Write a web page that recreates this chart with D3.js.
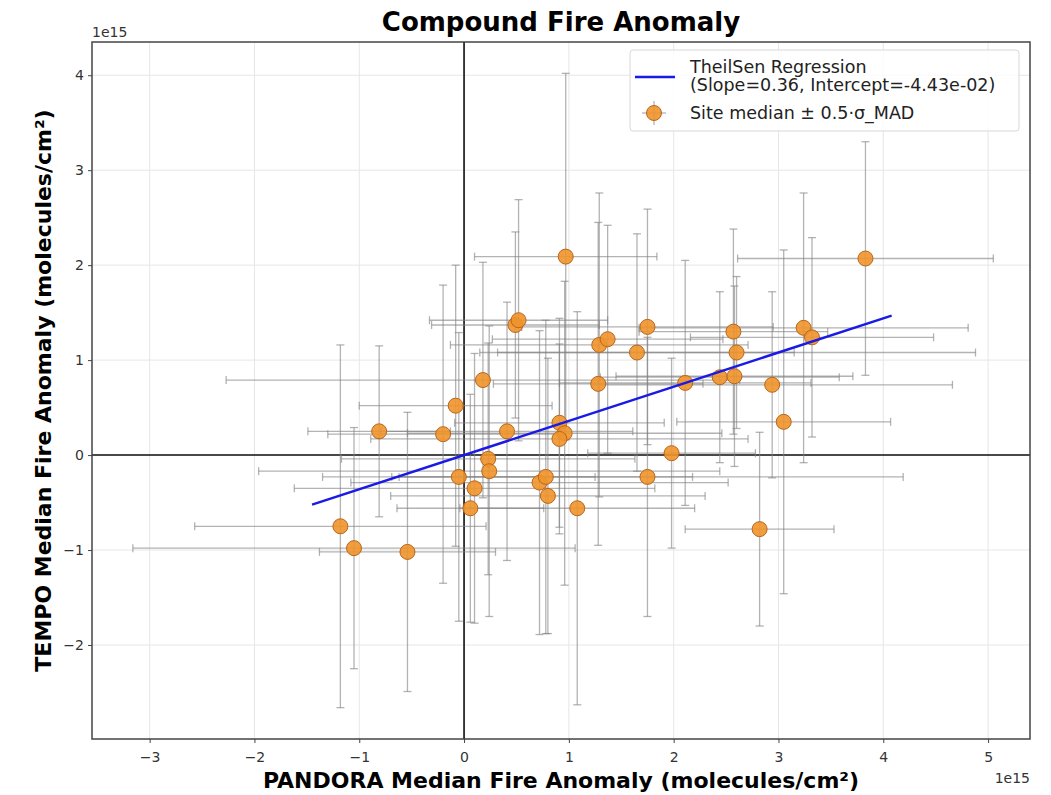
<!DOCTYPE html>
<html>
<head>
<meta charset="utf-8">
<script src="https://cdn.jsdelivr.net/npm/d3@7"></script>
<style>
  body { margin: 0; background: #fff; }
  svg { font-family: 'DejaVu Sans', sans-serif; }
</style>
</head>
<body>
<svg id="chart" width="1051" height="795"></svg>
<script>
// site medians (units of 1e15 molecules/cm2)
const siteX = [-1.18, -1.05, -0.54, -0.81, -0.20, -0.08, 0.18, 0.49, 0.52, 0.41,
  0.23, 0.24, -0.05, 0.10, 0.06, 0.72, 0.78, 0.80, 1.08, 0.91,
  0.96, 0.91, 0.97, 1.28, 1.29, 1.37, 1.65, 1.75, 1.98, 1.75,
  2.11, 2.44, 2.58, 2.57, 2.60, 2.94, 2.82, 3.05, 3.24, 3.32, 3.83];
const siteY = [-0.75, -0.98, -1.02, 0.25, 0.22, 0.52, 0.79, 1.37, 1.42, 0.25,
  -0.04, -0.17, -0.23, -0.35, -0.56, -0.29, -0.23, -0.43, -0.56, 0.34,
  0.23, 0.17, 2.09, 0.75, 1.16, 1.22, 1.08, 1.35, 0.02, -0.23,
  0.76, 0.82, 0.83, 1.30, 1.08, 0.74, -0.78, 0.35, 1.34, 1.24, 2.07];
// 0.5 * sigma_MAD
const errX = [1.39, 2.11, 0.84, 0.68, 1.10, 0.92, 2.45, 0.80, 0.85, 1.20,
  1.40, 2.20, 1.30, 1.72, 0.70, 1.80, 1.40, 1.50, 1.12, 1.00,
  1.50, 1.80, 0.87, 1.00, 1.42, 1.10, 1.50, 1.20, 0.80, 2.44,
  1.20, 1.14, 1.13, 0.90, 2.28, 1.72, 0.71, 1.02, 1.57, 1.16, 1.22];
const errY = [1.91, 1.27, 1.47, 0.90, 1.57, 1.48, 1.24, 0.98, 1.27, 1.36,
  1.22, 1.53, 1.52, 1.42, 1.20, 1.60, 1.65, 1.45, 2.07, 1.10,
  1.60, 1.00, 1.93, 1.70, 1.60, 1.20, 1.25, 1.24, 1.00, 1.47,
  1.29, 0.90, 0.95, 1.08, 0.80, 0.98, 1.02, 1.81, 1.42, 1.05, 1.23];

// TheilSen fit (intercept is in raw molecules/cm2, axes are in 1e15)
const slope = 0.36;
const intercept = -4.43e-02;
const unit = 1e15;
const fitRange = [-1.45, 4.08];

const xTicks = [-3, -2, -1, 0, 1, 2, 3, 4, 5];
const yTicks = [-2, -1, 0, 1, 2, 3, 4];

const svg = d3.select('#chart');
const pLeft = 92, pRight = 1030, pTop = 42, pBottom = 739;

const x = d3.scaleLinear().domain([-3.55, 5.40]).range([pLeft, pRight]);
const y = d3.scaleLinear().domain([-2.99, 4.35]).range([pBottom, pTop]);

const fmt = d => d3.format('d')(d).replace('-', '\u2212');

// grid
svg.append('g').selectAll('line').data(xTicks).enter().append('line')
  .attr('x1', d => x(d)).attr('x2', d => x(d))
  .attr('y1', pTop).attr('y2', pBottom)
  .attr('stroke', '#e6e6e6').attr('stroke-width', 1);
svg.append('g').selectAll('line').data(yTicks).enter().append('line')
  .attr('y1', d => y(d)).attr('y2', d => y(d))
  .attr('x1', pLeft).attr('x2', pRight)
  .attr('stroke', '#e6e6e6').attr('stroke-width', 1);

// zero lines
svg.append('line').attr('x1', x(0)).attr('x2', x(0)).attr('y1', pTop).attr('y2', pBottom)
  .attr('stroke', '#111').attr('stroke-width', 1.6);
svg.append('line').attr('y1', y(0)).attr('y2', y(0)).attr('x1', pLeft).attr('x2', pRight)
  .attr('stroke', '#111').attr('stroke-width', 1.6);

// error bars
const sites = siteX.map((v, i) => ({ x: v, y: siteY[i], ex: errX[i], ey: errY[i] }));
const cap = 4;
const eb = svg.append('g').attr('stroke', '#808080').attr('stroke-opacity', 0.6)
  .attr('stroke-width', 1.3);
sites.forEach(d => {
  eb.append('line').attr('x1', x(d.x - d.ex)).attr('x2', x(d.x + d.ex))
    .attr('y1', y(d.y)).attr('y2', y(d.y));
  eb.append('line').attr('x1', x(d.x)).attr('x2', x(d.x))
    .attr('y1', y(d.y - d.ey)).attr('y2', y(d.y + d.ey));
  [d.x - d.ex, d.x + d.ex].forEach(v => {
    eb.append('line').attr('x1', x(v)).attr('x2', x(v))
      .attr('y1', y(d.y) - cap).attr('y2', y(d.y) + cap);
  });
  [d.y - d.ey, d.y + d.ey].forEach(v => {
    eb.append('line').attr('y1', y(v)).attr('y2', y(v))
      .attr('x1', x(d.x) - cap).attr('x2', x(d.x) + cap);
  });
});

// markers
svg.append('g').selectAll('circle').data(sites).enter().append('circle')
  .attr('cx', d => x(d.x)).attr('cy', d => y(d.y)).attr('r', 7.5)
  .attr('fill', '#ee932b').attr('fill-opacity', 0.9)
  .attr('stroke', '#b8661c').attr('stroke-width', 1);

// TheilSen line
const fitY = v => slope * v + intercept / unit;
svg.append('line')
  .attr('x1', x(fitRange[0])).attr('y1', y(fitY(fitRange[0])))
  .attr('x2', x(fitRange[1])).attr('y2', y(fitY(fitRange[1])))
  .attr('stroke', '#1a1ae6').attr('stroke-width', 2.5);

// frame
svg.append('rect').attr('x', pLeft).attr('y', pTop)
  .attr('width', pRight - pLeft).attr('height', pBottom - pTop)
  .attr('fill', 'none').attr('stroke', '#444').attr('stroke-width', 1.5);

// axes
const xAxis = svg.append('g').attr('transform', 'translate(0,' + pBottom + ')')
  .call(d3.axisBottom(x).tickValues(xTicks).tickFormat(fmt).tickSize(4).tickSizeOuter(0));
const yAxis = svg.append('g').attr('transform', 'translate(' + pLeft + ',0)')
  .call(d3.axisLeft(y).tickValues(yTicks).tickFormat(fmt).tickSize(4).tickSizeOuter(0));
[xAxis, yAxis].forEach(a => {
  a.select('.domain').remove();
  a.selectAll('line').attr('stroke', '#444');
  a.selectAll('text').attr('fill', '#333').style('font-size', '14px')
    .style('font-family', "'DejaVu Sans', sans-serif");
});
xAxis.selectAll('text').attr('dy', '1.15em');
yAxis.selectAll('text').attr('x', -8);

// offset text
svg.append('text').attr('x', pLeft).attr('y', 37).text('1e15')
  .style('font-size', '14px').attr('fill', '#333');
svg.append('text').attr('x', pRight).attr('y', 783).attr('text-anchor', 'end').text('1e15')
  .style('font-size', '14px').attr('fill', '#333');

// title and labels
svg.append('text').attr('x', (pLeft + pRight) / 2).attr('y', 31).attr('text-anchor', 'middle')
  .style('font-size', '26px').style('font-weight', 'bold').text('Compound Fire Anomaly');
svg.append('text').attr('x', (pLeft + pRight) / 2).attr('y', 788).attr('text-anchor', 'middle')
  .style('font-size', '22px').style('font-weight', 'bold')
  .text('PANDORA Median Fire Anomaly (molecules/cm\u00b2)');
svg.append('text').attr('transform', 'translate(51,' + (pTop + pBottom) / 2 + ') rotate(-90)')
  .attr('text-anchor', 'middle')
  .style('font-size', '22px').style('font-weight', 'bold')
  .text('TEMPO Median Fire Anomaly (molecules/cm\u00b2)');

// legend
const lg = svg.append('g');
lg.append('rect').attr('x', 630).attr('y', 50).attr('width', 389).attr('height', 81).attr('rx', 3)
  .attr('fill', '#fff').attr('fill-opacity', 0.85).attr('stroke', '#d8d8d8');
lg.append('line').attr('x1', 635).attr('x2', 675).attr('y1', 77).attr('y2', 77)
  .attr('stroke', '#1a1ae6').attr('stroke-width', 2.5);
lg.append('line').attr('x1', 642).attr('x2', 666).attr('y1', 113).attr('y2', 113)
  .attr('stroke', '#808080').attr('stroke-opacity', 0.6).attr('stroke-width', 1.3);
lg.append('line').attr('x1', 654).attr('x2', 654).attr('y1', 101).attr('y2', 125)
  .attr('stroke', '#808080').attr('stroke-opacity', 0.6).attr('stroke-width', 1.3);
lg.append('circle').attr('cx', 654).attr('cy', 113).attr('r', 7.5)
  .attr('fill', '#ee932b').attr('fill-opacity', 0.9).attr('stroke', '#b8661c');
const legendText = ['TheilSen Regression', '(Slope=0.36, Intercept=-4.43e-02)', 'Site median \u00b1 0.5\u00b7\u03c3_MAD'];
[73, 91, 119].forEach((yy, i) => {
  lg.append('text').attr('x', 690).attr('y', yy).style('font-size', '17.5px')
    .attr('fill', '#222').text(legendText[i]);
});
</script>
</body>
</html>
